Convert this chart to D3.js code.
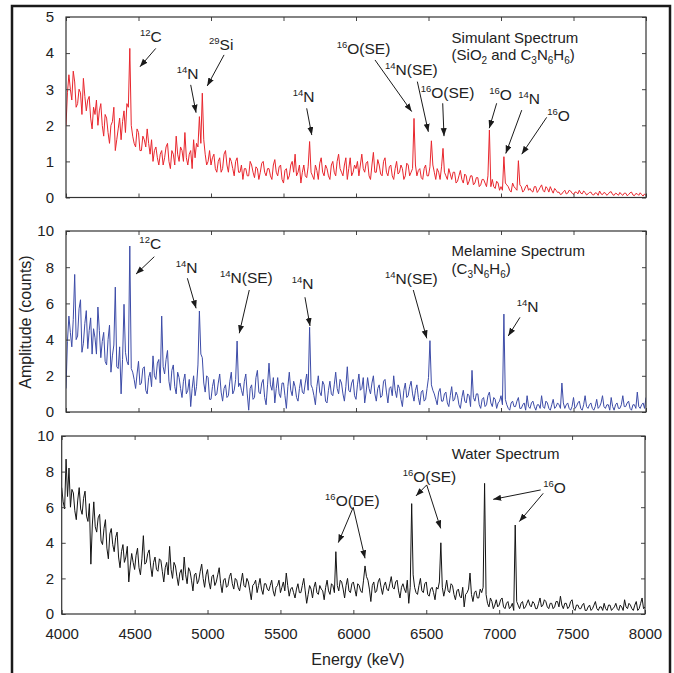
<!DOCTYPE html>
<html>
<head>
<meta charset="utf-8">
<script src="https://cdn.jsdelivr.net/npm/d3@7"></script>
<style>
  body { margin: 0; background: #fff; }
  svg text { font-family: "Liberation Sans", Arial, Helvetica, sans-serif; fill: #222; }
</style>
</head>
<body>
<div id="chart"></div>
<script>
// channel grid of the spectra (keV)
var startEnergy = 4000, stepEnergy = 10;

// counts, one value per 10 keV from 4000 to 8000 (rows of 200 keV)
var simulantCounts = [
  2.0, 2.9, 3.4, 3.0, 2.7, 3.5, 3.2, 2.5, 2.6, 3.0, 2.9, 2.3, 3.3, 2.8, 2.4, 2.7, 2.8, 2.2, 1.9, 2.5,
  2.3, 2.7, 2.0, 2.4, 2.6, 2.0, 1.7, 2.3, 2.2, 1.8, 1.5, 2.0, 2.1, 2.5, 1.3, 1.6, 1.9, 2.2, 1.6, 2.1,
  2.4, 1.8, 2.6, 2.5, 4.13, 2.0, 1.7, 1.5, 1.4, 1.9, 1.8, 1.3, 1.3, 1.7, 1.6, 1.4, 1.9, 1.5, 1.2, 1.6,
  1.0, 1.3, 1.4, 1.1, 0.9, 1.2, 1.3, 0.9, 1.1, 1.4, 1.5, 1.0, 0.8, 1.3, 1.2, 0.9, 1.7, 1.2, 1.0, 1.4,
  1.3, 1.0, 1.8, 1.1, 0.9, 1.2, 1.3, 0.8, 1.6, 1.1, 1.5, 1.4, 2.24, 1.5, 2.89, 1.6, 1.2, 0.9, 1.0, 1.3,
  0.9, 1.1, 1.2, 0.8, 0.7, 1.0, 1.1, 0.7, 0.8, 1.2, 1.3, 0.9, 0.7, 1.1, 1.0, 0.8, 0.6, 1.0, 1.1, 0.7,
  0.7, 0.9, 0.5, 0.8, 0.8, 0.6, 0.6, 1.0, 0.9, 0.7, 0.55, 0.85, 0.8, 0.5, 0.7, 0.95, 1.0, 0.7, 0.6, 0.8,
  0.8, 0.6, 0.5, 0.9, 1.05, 0.7, 0.6, 0.85, 0.9, 0.5, 0.4, 0.75, 0.8, 0.5, 0.6, 0.9, 1.0, 0.7, 1.2, 0.6,
  0.7, 0.9, 0.4, 0.7, 0.9, 0.6, 0.55, 0.85, 1.55, 0.7, 0.6, 0.5, 0.9, 0.75, 0.5, 0.95, 1.1, 0.7, 0.6, 0.9,
  0.8, 0.6, 0.5, 0.9, 1.0, 0.7, 0.6, 1.0, 1.2, 0.8, 0.7, 0.6, 0.9, 1.1, 0.5, 0.8, 1.1, 0.6, 0.7, 0.9,
  0.8, 1.0, 0.6, 0.9, 1.2, 0.8, 0.7, 0.95, 1.0, 0.6, 0.5, 0.9, 1.25, 0.7, 0.7, 1.05, 0.9, 0.65, 0.6, 1.0,
  1.1, 0.7, 0.6, 0.85, 0.9, 0.6, 0.5, 0.8, 1.0, 0.65, 0.7, 0.9, 0.8, 0.5, 0.6, 0.95, 0.9, 0.6, 0.7, 0.8,
  2.19, 0.9, 0.6, 0.75, 0.8, 0.55, 0.5, 0.8, 0.9, 0.6, 0.6, 0.85, 1.57, 0.9, 0.7, 0.5, 0.8, 0.7, 0.5, 0.85,
  1.36, 0.7, 0.6, 0.5, 0.8, 0.65, 0.5, 0.7, 0.7, 0.4, 0.45, 0.6, 0.75, 0.5, 0.4, 0.65, 0.6, 0.35, 0.45, 0.6,
  0.6, 0.35, 0.4, 0.55, 0.55, 0.3, 0.35, 0.5, 0.5, 0.4, 0.3, 0.6, 1.87, 0.3, 0.5, 0.3, 0.25, 0.45, 0.4, 0.2,
  0.3, 0.2, 1.13, 0.4, 0.35, 0.3, 0.2, 0.15, 0.4, 0.3, 0.25, 0.2, 1.02, 0.35, 0.3, 0.15, 0.2, 0.3, 0.35, 0.2,
  0.25, 0.18, 0.15, 0.3, 0.3, 0.14, 0.2, 0.28, 0.35, 0.2, 0.15, 0.3, 0.25, 0.15, 0.3, 0.2, 0.12, 0.25, 0.2, 0.14,
  0.15, 0.08, 0.1, 0.16, 0.2, 0.1, 0.12, 0.2, 0.18, 0.12, 0.08, 0.15, 0.15, 0.1, 0.2, 0.12, 0.1, 0.18, 0.14, 0.07,
  0.1, 0.14, 0.15, 0.08, 0.07, 0.13, 0.12, 0.06, 0.18, 0.1, 0.08, 0.14, 0.12, 0.06, 0.1, 0.15, 0.16, 0.08, 0.06, 0.12,
  0.1, 0.06, 0.14, 0.09, 0.06, 0.12, 0.12, 0.05, 0.08, 0.13, 0.15, 0.07, 0.05, 0.11, 0.1, 0.06, 0.13, 0.08, 0.04, 0.1,
  0.05
];

var melamineCounts = [
  1.3, 3.9, 5.3, 4.4, 3.6, 5.1, 7.6, 4.0, 4.2, 5.7, 6.2, 3.3, 3.8, 4.9, 5.6, 3.5, 4.5, 5.2, 3.2, 4.6,
  4.1, 3.2, 5.8, 4.5, 3.0, 3.9, 4.4, 2.8, 2.6, 4.0, 4.8, 2.2, 3.1, 3.7, 6.9, 2.5, 2.4, 3.6, 1.0, 2.9,
  5.95, 3.3, 2.8, 2.6, 9.17, 2.4, 2.2, 1.8, 1.3, 2.1, 2.8, 1.5, 1.6, 2.4, 2.5, 1.2, 1.0, 1.9, 2.2, 1.4,
  3.1, 2.0, 1.8, 2.7, 2.9, 1.6, 5.3, 2.5, 2.1, 2.9, 3.4, 1.7, 1.2, 2.3, 2.6, 1.4, 1.0, 2.2, 1.9, 1.3,
  0.8, 1.7, 2.1, 1.0, 1.2, 1.8, 0.3, 1.3, 2.0, 0.9, 1.4, 2.6, 5.58, 3.2, 3.0, 1.6, 1.1, 2.0, 1.9, 0.7,
  0.7, 1.4, 1.8, 0.9, 1.0, 1.6, 2.1, 1.1, 0.6, 1.3, 1.5, 0.8, 0.9, 1.7, 2.2, 1.0, 1.2, 1.8, 3.92, 1.4,
  1.6, 1.2, 0.9, 1.7, 2.1, 1.0, 0.1, 1.3, 1.5, 0.7, 0.8, 1.9, 2.3, 1.1, 1.0, 1.6, 1.8, 0.8, 0.4, 1.5,
  2.7, 1.5, 1.2, 1.9, 0.5, 1.3, 1.9, 1.0, 0.8, 1.6, 1.6, 0.9, 0.2, 1.4, 2.2, 1.2, 0.9, 1.7, 1.4, 0.8,
  0.6, 1.3, 1.8, 1.1, 1.0, 1.6, 2.1, 1.2, 4.68, 1.5, 1.3, 0.9, 0.4, 1.4, 2.0, 1.1, 0.9, 1.7, 1.5, 0.6,
  0.5, 1.2, 1.7, 1.0, 0.9, 1.5, 2.2, 1.3, 1.0, 1.8, 1.6, 1.0, 0.6, 1.4, 2.5, 1.2, 1.1, 1.6, 1.8, 0.9,
  0.7, 1.5, 2.1, 1.2, 1.3, 1.9, 0.5, 1.1, 1.9, 1.3, 1.0, 1.6, 2.0, 1.0, 0.6, 1.3, 1.5, 0.8, 0.9, 1.7,
  1.8, 1.1, 0.5, 1.3, 1.4, 0.9, 2.0, 1.2, 0.8, 1.5, 1.3, 0.7, 0.3, 1.2, 1.6, 0.8, 0.9, 1.4, 1.7, 1.0,
  0.6, 1.2, 1.5, 0.8, 0.4, 1.1, 1.2, 0.6, 0.7, 1.3, 1.9, 3.94, 1.5, 1.2, 1.0, 0.7, 0.4, 1.1, 1.3, 0.6,
  0.6, 1.0, 1.1, 0.5, 0.3, 0.9, 1.4, 0.6, 0.7, 1.1, 0.9, 0.4, 0.2, 0.8, 1.2, 0.6, 0.5, 1.0, 0.9, 0.3,
  2.3, 0.8, 0.6, 1.0, 1.0, 0.4, 0.2, 0.7, 0.8, 0.3, 0.4, 0.9, 1.1, 0.5, 0.3, 0.8, 0.7, 0.2, 0.5, 0.6,
  0.9, 0.4, 5.41, 0.7, 0.4, 0.2, 0.1, 0.5, 0.6, 0.3, 0.3, 0.6, 0.8, 0.2, 0.2, 0.4, 0.5, 0.1, 0.9, 0.3,
  0.2, 0.5, 0.6, 0.3, 0.1, 0.4, 0.4, 0.2, 0.9, 0.3, 0.2, 0.6, 0.5, 0.2, 0.1, 0.4, 0.7, 0.2, 0.3, 0.5,
  0.4, 0.2, 1.6, 0.5, 0.2, 0.4, 0.5, 0.2, 0.1, 0.3, 0.8, 0.2, 0.3, 0.5, 0.6, 0.2, 0.1, 0.4, 0.9, 0.3,
  0.2, 0.4, 0.5, 0.2, 0.1, 0.3, 0.7, 0.2, 0.3, 0.5, 0.9, 0.3, 0.2, 0.4, 0.4, 0.1, 0.8, 0.3, 0.1, 0.4,
  0.5, 0.2, 0.2, 0.4, 0.9, 0.3, 0.3, 0.5, 0.6, 0.2, 0.1, 0.4, 0.4, 0.2, 1.1, 0.3, 0.2, 0.4, 0.5, 0.2,
  0.8
];

var waterCounts = [
  7.1, 6.3, 5.9, 8.7, 6.6, 8.2, 6.0, 7.0, 6.8, 5.8, 5.3, 6.4, 7.1, 5.9, 5.6, 6.5, 6.9, 5.5, 5.2, 6.2,
  2.8, 5.0, 6.3, 4.9, 4.6, 5.4, 5.6, 4.1, 3.9, 4.8, 5.3, 3.7, 3.1, 4.5, 4.8, 3.9, 3.5, 4.3, 4.6, 3.2,
  2.6, 3.5, 3.9, 2.9, 3.2, 3.8, 1.8, 2.7, 3.4, 2.9, 2.5, 3.3, 3.7, 2.6, 2.2, 3.1, 4.4, 2.8, 2.9, 3.4,
  3.6, 2.7, 2.1, 2.9, 3.2, 2.5, 2.4, 3.1, 3.0, 2.4, 1.8, 2.6, 2.9, 2.2, 3.8, 2.5, 2.0, 2.9, 2.7, 2.1,
  1.6, 2.3, 2.5, 1.9, 3.2, 2.2, 1.7, 2.6, 2.4, 1.9, 1.3, 2.2, 2.3, 1.7, 1.9, 2.4, 2.8, 2.0, 1.5, 2.2,
  2.5, 1.8, 1.4, 2.1, 2.2, 1.6, 1.8, 2.2, 2.6, 1.7, 1.2, 1.9, 2.0, 1.5, 1.6, 2.1, 2.3, 1.7, 1.4, 2.0,
  1.9, 1.5, 1.3, 1.8, 2.3, 1.6, 1.5, 2.0, 1.8, 1.3, 0.8, 1.6, 1.7, 1.9, 1.2, 1.6, 2.0, 1.4, 1.1, 1.7,
  1.7, 1.4, 1.3, 1.6, 1.9, 1.3, 1.0, 1.5, 1.6, 1.9, 1.2, 1.5, 1.8, 1.3, 2.3, 1.6, 1.0, 1.4, 1.5, 1.2,
  0.9, 1.4, 1.7, 1.2, 1.2, 1.6, 2.0, 1.3, 0.6, 1.1, 1.6, 1.4, 0.9, 1.5, 1.8, 1.2, 1.1, 1.6, 1.4, 1.3,
  0.8, 1.5, 1.9, 1.3, 1.1, 1.7, 1.6, 1.2, 3.5, 1.6, 1.3, 1.9, 1.8, 1.4, 0.9, 1.6, 2.0, 1.3, 1.2, 1.7,
  1.8, 1.4, 1.0, 1.7, 1.6, 1.3, 1.2, 1.9, 2.7, 2.1, 1.9, 1.4, 0.7, 1.6, 1.8, 1.2, 1.3, 1.8, 2.0, 1.5,
  1.1, 1.6, 1.8, 1.4, 1.3, 1.7, 2.1, 1.5, 1.4, 1.8, 1.9, 1.3, 0.9, 1.5, 1.7, 1.4, 1.2, 1.9, 0.6, 1.5,
  6.2, 2.2, 1.5, 1.2, 1.1, 1.6, 2.0, 1.3, 1.2, 1.7, 1.8, 1.1, 1.0, 1.4, 1.5, 1.2, 0.8, 1.5, 1.4, 1.8,
  4.0, 1.5, 1.0, 1.4, 1.9, 1.3, 1.2, 1.7, 1.6, 1.1, 0.8, 1.3, 1.4, 1.0, 0.9, 1.5, 0.4, 1.1, 1.2, 1.4,
  2.3, 1.1, 0.7, 1.2, 1.3, 0.9, 0.9, 1.4, 1.2, 1.5, 7.34, 1.1, 0.6, 0.4, 0.9, 0.7, 0.3, 0.5, 0.8, 0.4,
  0.5, 0.8, 0.9, 0.4, 0.3, 0.6, 0.7, 0.3, 0.4, 0.6, 0.2, 5.0, 0.7, 0.5, 0.3, 0.6, 0.7, 0.3, 0.4, 0.6,
  0.8, 0.5, 0.4, 0.7, 0.6, 0.3, 0.3, 0.6, 0.9, 0.4, 0.5, 0.8, 0.7, 0.4, 0.3, 0.6, 0.6, 0.3, 0.4, 0.7,
  0.7, 0.4, 1.0, 0.5, 0.3, 0.6, 0.6, 0.3, 0.4, 0.7, 0.8, 0.3, 0.2, 0.5, 0.5, 0.3, 0.3, 0.5, 0.6, 0.2,
  0.2, 0.4, 0.5, 0.2, 0.3, 0.5, 0.7, 0.3, 0.2, 0.4, 0.4, 0.2, 0.6, 0.3, 0.2, 0.5, 0.5, 0.2, 0.3, 0.4,
  0.6, 0.3, 0.2, 0.5, 0.4, 0.2, 0.8, 0.4, 0.3, 0.6, 0.5, 0.3, 0.2, 0.5, 0.7, 0.2, 0.3, 0.6, 0.9, 0.3,
  0.4
];

var energyTicks = [4000, 4500, 5000, 5500, 6000, 6500, 7000, 7500, 8000];
var simulantTicks = [0, 1, 2, 3, 4, 5];
var melamineTicks = [0, 2, 4, 6, 8, 10];
var waterTicks = [0, 2, 4, 6, 8, 10];

// titles: segments of [text, "" | "sub"]
var simulantTitle = [
  [["Simulant Spectrum", ""]],
  [["(SiO", ""], ["2", "sub"], [" and C", ""], ["3", "sub"], ["N", ""], ["6", "sub"], ["H", ""], ["6", "sub"], [")", ""]]
];
var melamineTitle = [
  [["Melamine Spectrum", ""]],
  [["(C", ""], ["3", "sub"], ["N", ""], ["6", "sub"], ["H", ""], ["6", "sub"], [")", ""]]
];
var waterTitle = [
  [["Water Spectrum", ""]]
];

// peak labels: [mass number, name]
var simulantLabels = [["12", "C"], ["14", "N"], ["29", "Si"], ["14", "N"], ["16", "O(SE)"],
  ["14", "N(SE)"], ["16", "O(SE)"], ["16", "O"], ["14", "N"], ["16", "O"]];
var melamineLabels = [["12", "C"], ["14", "N"], ["14", "N(SE)"], ["14", "N"], ["14", "N(SE)"], ["14", "N"]];
var waterLabels = [["16", "O(DE)"], ["16", "O(SE)"], ["16", "O"]];

// label placement in data units: [energy, value] of text start, then arrows [e0, v0, e1, v1]
var simulantPlace = [
  [4510, 4.32, [[4619, 4.13, 4510, 3.62]]],
  [4763, 3.28, [[4860, 3.12, 4897, 2.35]]],
  [4986, 4.09, [[5090, 3.95, 4974, 3.09]]],
  [5564, 2.65, [[5660, 2.47, 5695, 1.73]]],
  [5867, 3.97, [[6131, 3.81, 6384, 2.38]]],
  [6200, 3.39, [[6423, 3.21, 6499, 1.82]]],
  [6446, 2.75, [[6598, 2.61, 6607, 1.70]]],
  [6919, 2.70, [[6970, 2.61, 6919, 1.92]]],
  [7119, 2.59, [[7143, 2.42, 7033, 1.22]]],
  [7319, 2.13, [[7315, 2.22, 7143, 1.20]]]
];
var melaminePlace = [
  [4506, 8.99, [[4609, 8.58, 4483, 7.62]]],
  [4757, 7.66, [[4837, 7.39, 4897, 5.73]]],
  [5062, 7.11, [[5264, 6.74, 5195, 4.35]]],
  [5557, 6.80, [[5648, 6.34, 5683, 4.75]]],
  [6200, 7.07, [[6395, 6.74, 6488, 4.07]]],
  [7108, 5.54, [[7131, 5.23, 7050, 4.20]]]
];
var waterPlace = [
  [5806, 6.07, [[5999, 5.99, 5897, 4.01], [5999, 5.99, 6080, 3.13]]],
  [6338, 7.43, [[6503, 7.25, 6429, 6.63], [6503, 7.25, 6599, 4.81]]],
  [7302, 6.81, [[7285, 6.97, 6959, 6.44], [7302, 6.78, 7138, 5.19]]]
];

var panels = [
  { counts: simulantCounts, ticks: simulantTicks, max: 5, color: "#e8262d",
    title: simulantTitle, titleAt: [6659, 4.28, 3.81],
    labels: simulantLabels, place: simulantPlace,
    left: 66, right: 646, top: 17, bottom: 197.5, xLabels: false },
  { counts: melamineCounts, ticks: melamineTicks, max: 10, color: "#3d4ca8",
    title: melamineTitle, titleAt: [6659, 8.62, 7.62],
    labels: melamineLabels, place: melaminePlace,
    left: 66, right: 646, top: 231, bottom: 412, xLabels: false },
  { counts: waterCounts, ticks: waterTicks, max: 10, color: "#141414",
    title: waterTitle, titleAt: [6674, 8.71],
    labels: waterLabels, place: waterPlace,
    left: 61.7, right: 645, top: 436, bottom: 614, xLabels: true }
];

var width = 674, height = 673;
var svg = d3.select("#chart").append("svg")
  .attr("width", width)
  .attr("height", height);

var defs = svg.append("defs");
defs.append("marker")
  .attr("id", "arrow")
  .attr("markerUnits", "userSpaceOnUse")
  .attr("markerWidth", 9)
  .attr("markerHeight", 7)
  .attr("refX", 8)
  .attr("refY", 3)
  .attr("orient", "auto")
  .append("path")
  .attr("d", "M0,0 L8,3 L0,6 Z")
  .attr("fill", "#1a1a1a");

// outer frame
svg.append("rect")
  .attr("x", 12).attr("y", 6)
  .attr("width", 658).attr("height", 700)
  .attr("fill", "none")
  .attr("stroke", "#1a1a1a")
  .attr("stroke-width", 2.5);

function writeLine(textSel, segs) {
  var shift = 0;
  segs.forEach(function(s) {
    var want = s[1] == "sub" ? 4 : 0;
    textSel.append("tspan")
      .attr("dy", want - shift)
      .attr("font-size", s[1] == "sub" ? "10px" : null)
      .text(s[0]);
    shift = want;
  });
}

panels.forEach(function(p, pi) {
  var x = d3.scaleLinear().domain([4000, 8000]).range([p.left, p.right]);
  var y = d3.scaleLinear().domain([0, p.max]).range([p.bottom, p.top]);
  var clipId = "clip" + pi;

  defs.append("clipPath").attr("id", clipId)
    .append("rect")
    .attr("x", p.left).attr("y", p.top)
    .attr("width", p.right - p.left).attr("height", p.bottom - p.top);

  var g = svg.append("g");

  var pts = p.counts.map(function(v, i) {
    return { e: startEnergy + i * stepEnergy, v: v };
  });
  var line = d3.line()
    .x(function(d) { return x(d.e); })
    .y(function(d) { return y(d.v); });

  g.append("path")
    .datum(pts)
    .attr("clip-path", "url(#" + clipId + ")")
    .attr("d", line)
    .attr("fill", "none")
    .attr("stroke", p.color)
    .attr("stroke-width", 1)
    .attr("stroke-linejoin", "round");

  // axes, ticks pointing inward on all sides
  var fmt = d3.format("d");
  var axB = d3.axisBottom(x).tickValues(energyTicks).tickSize(-4).tickSizeOuter(0).tickPadding(14)
    .tickFormat(p.xLabels ? fmt : "");
  var axT = d3.axisTop(x).tickValues(energyTicks).tickSize(-4).tickSizeOuter(0).tickFormat("");
  var axL = d3.axisLeft(y).tickValues(p.ticks).tickSize(-4).tickSizeOuter(0)
    .tickPadding(p.left - 54).tickFormat(fmt);
  var axR = d3.axisRight(y).tickValues(p.ticks).tickSize(-4).tickSizeOuter(0).tickFormat("");

  [[axB, "translate(0," + p.bottom + ")"], [axT, "translate(0," + p.top + ")"],
   [axL, "translate(" + p.left + ",0)"], [axR, "translate(" + p.right + ",0)"]].forEach(function(a) {
    var ag = g.append("g").attr("transform", a[1]).call(a[0]);
    ag.select(".domain").remove();
    ag.selectAll(".tick line").attr("stroke", "#444").attr("stroke-width", 1);
    ag.selectAll(".tick text")
      .attr("font-size", "15px")
      .attr("font-family", "Liberation Sans, Arial, sans-serif")
      .attr("fill", "#222");
  });

  g.append("rect")
    .attr("x", p.left).attr("y", p.top)
    .attr("width", p.right - p.left).attr("height", p.bottom - p.top)
    .attr("fill", "none")
    .attr("stroke", "#333")
    .attr("stroke-width", 1.2);

  // title at upper right
  p.title.forEach(function(segs, li) {
    var t = g.append("text")
      .attr("x", x(p.titleAt[0]))
      .attr("y", y(p.titleAt[li + 1]))
      .attr("font-size", "15px");
    writeLine(t, segs);
  });

  // peak labels with arrows
  p.labels.forEach(function(lab, li) {
    var pl = p.place[li];
    var t = g.append("text")
      .attr("x", x(pl[0]))
      .attr("y", y(pl[1]))
      .attr("font-size", "15.5px");
    t.append("tspan").attr("font-size", "9.5px").attr("dy", -6).text(lab[0]);
    t.append("tspan").attr("dy", 6).text(lab[1]);

    pl[2].forEach(function(a) {
      g.append("line")
        .attr("x1", x(a[0])).attr("y1", y(a[1]))
        .attr("x2", x(a[2])).attr("y2", y(a[3]))
        .attr("stroke", "#1a1a1a")
        .attr("stroke-width", 1)
        .attr("marker-end", "url(#arrow)");
    });
  });
});

svg.append("text")
  .attr("transform", "translate(31,322) rotate(-90)")
  .attr("text-anchor", "middle")
  .attr("font-size", "16px")
  .text("Amplitude (counts)");

svg.append("text")
  .attr("x", 358)
  .attr("y", 665)
  .attr("text-anchor", "middle")
  .attr("font-size", "16px")
  .text("Energy (keV)");
</script>
</body>
</html>
